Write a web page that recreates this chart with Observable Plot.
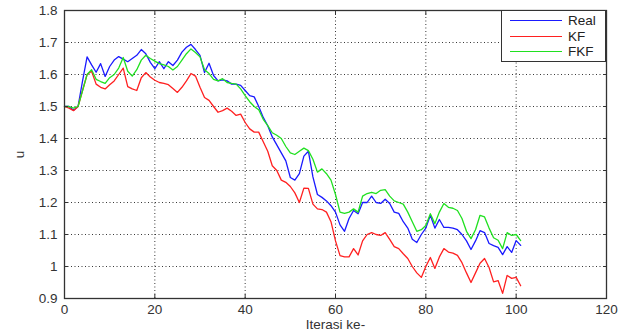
<!DOCTYPE html>
<html>
<head>
<meta charset="utf-8">
<script src="https://cdn.jsdelivr.net/npm/d3@7"></script>
<script src="https://cdn.jsdelivr.net/npm/@observablehq/plot@0.6"></script>
<style>
  html, body { margin: 0; padding: 0; background: #fff; }
  #wrap { position: relative; width: 618px; height: 332px; }
  #legend {
    position: absolute; left: 501px; top: 10px; width: 105px; height: 52px;
    border: 1px solid #333; background: #fff; box-sizing: border-box;
    font: 13.5px "Liberation Sans", Arial, sans-serif; color: #222;
  }
  #legend .row { position: absolute; left: 8px; height: 15px; display: flex; align-items: center; }
  #legend .sw { width: 52px; height: 0; border-top: 1px solid; margin-right: 6px; }
</style>
</head>
<body>
<div id="wrap">
  <div id="chart"></div>
  <div id="legend"></div>
</div>
<script>
const seriesNames = ["Real", "KF", "FKF"];
const seriesColors = ["#1a1aff", "#ff2020", "#20e020"];

const real = [1.50, 1.50, 1.488, 1.50, 1.58, 1.655, 1.63, 1.607, 1.634, 1.594,
  1.625, 1.645, 1.656, 1.648, 1.64, 1.65, 1.66, 1.678, 1.665, 1.638,
  1.618, 1.64, 1.618, 1.64, 1.628, 1.645, 1.67, 1.685, 1.694, 1.678,
  1.66, 1.606, 1.635, 1.597, 1.58, 1.583, 1.58, 1.57, 1.57, 1.566,
  1.55, 1.534, 1.53, 1.50, 1.466, 1.44, 1.405, 1.38, 1.355, 1.33,
  1.278, 1.27, 1.29, 1.345, 1.36, 1.28, 1.225, 1.216, 1.205, 1.19,
  1.17, 1.13, 1.11, 1.15, 1.175, 1.165, 1.20, 1.20, 1.22, 1.20,
  1.197, 1.21, 1.197, 1.17, 1.166, 1.14, 1.12, 1.085, 1.075, 1.10,
  1.12, 1.16, 1.12, 1.147, 1.122, 1.122, 1.12, 1.115, 1.10, 1.08,
  1.053, 1.08, 1.112, 1.106, 1.072, 1.065, 1.06, 1.037, 1.062, 1.044,
  1.081, 1.066];

const kf = [1.50, 1.495, 1.487, 1.50, 1.55, 1.60, 1.61, 1.57, 1.56, 1.555,
  1.568, 1.58, 1.60, 1.62, 1.562, 1.555, 1.55, 1.59, 1.606, 1.592,
  1.582, 1.575, 1.572, 1.568, 1.556, 1.544, 1.56, 1.58, 1.603, 1.595,
  1.56, 1.528, 1.519, 1.50, 1.482, 1.487, 1.495, 1.485, 1.472, 1.476,
  1.45, 1.43, 1.42, 1.42, 1.39, 1.36, 1.315, 1.30, 1.27, 1.263,
  1.25, 1.23, 1.20, 1.245, 1.244, 1.195, 1.18, 1.178, 1.17, 1.14,
  1.08, 1.034, 1.03, 1.03, 1.056, 1.036, 1.08, 1.10, 1.106, 1.10,
  1.097, 1.106, 1.085, 1.062, 1.056, 1.04, 1.025, 1.00, 0.98, 0.966,
  1.00, 1.028, 0.994, 1.03, 1.056, 1.045, 1.042, 1.035, 1.012, 0.98,
  0.95, 0.98, 1.01, 1.025, 0.997, 0.952, 0.956, 0.916, 0.972, 0.963,
  0.966, 0.94];

const fkf = [1.50, 1.50, 1.495, 1.50, 1.55, 1.60, 1.615, 1.585, 1.578, 1.572,
  1.59, 1.60, 1.62, 1.653, 1.61, 1.595, 1.615, 1.645, 1.66, 1.65,
  1.642, 1.634, 1.63, 1.625, 1.614, 1.625, 1.645, 1.665, 1.68, 1.669,
  1.655, 1.615, 1.603, 1.585, 1.58, 1.587, 1.575, 1.572, 1.57, 1.555,
  1.534, 1.515, 1.50, 1.49, 1.46, 1.44, 1.418, 1.41, 1.40, 1.375,
  1.355, 1.35, 1.36, 1.37, 1.362, 1.335, 1.295, 1.305, 1.29, 1.27,
  1.225, 1.17, 1.166, 1.17, 1.18, 1.17, 1.22, 1.228, 1.232, 1.228,
  1.238, 1.24, 1.22, 1.205, 1.20, 1.195, 1.17, 1.14, 1.11, 1.115,
  1.128, 1.165, 1.134, 1.17, 1.197, 1.185, 1.182, 1.175, 1.15, 1.11,
  1.087, 1.115, 1.16, 1.155, 1.12, 1.09, 1.082, 1.056, 1.106, 1.097,
  1.10, 1.081];

const xTicks = [0, 20, 40, 60, 80, 100, 120];
const yTicks = [0.9, 1.0, 1.1, 1.2, 1.3, 1.4, 1.5, 1.6, 1.7, 1.8];

const allSeries = [real, kf, fkf];
const rows = [];
allSeries.forEach((vals, s) => vals.forEach((v, i) => rows.push({iter: i, value: v, series: seriesNames[s]})));

const fmt = v => String(+v.toFixed(1));
const font = '"Liberation Sans", Arial, Helvetica, sans-serif';

const chart = Plot.plot({
  width: 618,
  height: 332,
  marginLeft: 64,
  marginRight: 12,
  marginTop: 10,
  marginBottom: 34,
  style: {fontFamily: font, fontSize: "13.5px", color: "#333", background: "#fff"},
  x: {domain: [0, 120]},
  y: {domain: [0.9, 1.8]},
  color: {domain: seriesNames, range: seriesColors},
  marks: [
    Plot.gridX(xTicks.slice(1, -1), {stroke: "#222", strokeOpacity: 0.9, strokeDasharray: "1,2.5"}),
    Plot.gridY(yTicks.slice(1, -1), {stroke: "#222", strokeOpacity: 0.9, strokeDasharray: "1,2.5"}),
    Plot.line(rows, {x: "iter", y: "value", z: "series", stroke: "series", strokeWidth: 1.3}),
    Plot.frame({stroke: "#333", strokeWidth: 1.3}),
    Plot.axisX({ticks: xTicks, tickSize: -4, tickPadding: 10, tickFormat: d => d, stroke: "#333", fontSize: 13.5,
      label: "Iterasi ke-", labelAnchor: "center", labelArrow: "none", labelOffset: 30}),
    Plot.axisX({anchor: "top", ticks: xTicks, tickSize: -4, tickFormat: () => "", label: null, stroke: "#333"}),
    Plot.axisY({ticks: yTicks, tickSize: -4, tickPadding: 11, tickFormat: fmt, stroke: "#333", fontSize: 13.5,
      label: "u", labelAnchor: "center", labelArrow: "none", labelOffset: 50}),
    Plot.axisY({anchor: "right", ticks: yTicks, tickSize: -4, tickFormat: () => "", label: null, stroke: "#333"})
  ]
});
document.getElementById("chart").appendChild(chart);

const legend = document.getElementById("legend");
const rowTops = [2, 18, 33];
seriesNames.forEach((name, i) => {
  const r = document.createElement("div");
  r.className = "row";
  r.style.top = rowTops[i] + "px";
  const sw = document.createElement("span");
  sw.className = "sw";
  sw.style.borderTopColor = seriesColors[i];
  const t = document.createElement("span");
  t.textContent = name;
  r.appendChild(sw); r.appendChild(t);
  legend.appendChild(r);
});
</script>
</body>
</html>
